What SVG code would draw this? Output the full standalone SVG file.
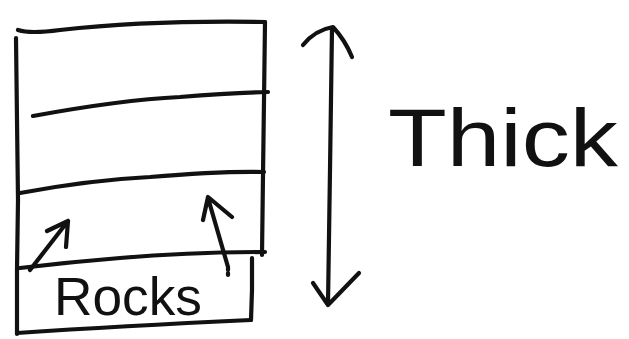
<svg xmlns="http://www.w3.org/2000/svg" width="629" height="339" viewBox="0 0 629 339">
<style>
.s{fill:none;stroke:#111;stroke-width:4.2;stroke-linecap:round;stroke-linejoin:round}
.t{font-family:"Liberation Sans",Arial,sans-serif;fill:#111}
</style>
<rect width="629" height="339" fill="#fff"/>
<g id="column">
<path class="s" d="M16,38 L17,120 L18,200 L17,270 L17,334"/>
<path class="s" d="M18,30 Q30,34 60,30 Q150,20 265,22"/>
<path class="s" d="M265,22 L264,100 L263,175 L262,255"/>
<path class="s" d="M33,116 Q120,100 180,97 Q230,93 268,92"/>
<path class="s" d="M20,193 Q90,180 150,177 Q220,171 264,172"/>
<path class="s" d="M20,268 Q70,262 120,258 Q190,252 265,252"/>
</g>
<g id="rocks">
<path class="s" d="M252,258 L252,290 L251,320"/>
<path class="s" d="M17,333 Q120,326 251,320"/>
<text class="t" x="54" y="315" font-size="53" textLength="148" lengthAdjust="spacingAndGlyphs">Rocks</text>
</g>
<g id="connectors">
<path class="s" d="M30,270 L68,221 M47,231 L68,221 L66,247"/>
<path class="s" d="M228,267 L208,198 M203,220 L208,197 L232,217"/>
<path class="s" d="M228,268 L228,278" stroke-dasharray="2 3"/>
<path class="s" d="M332,28 L330,170 L328,304"/>
<path class="s" d="M303,45 Q315,30 333,27 Q345,40 352,57"/>
<path class="s" d="M313,283 L328,305 L359,273"/>
</g>
<g id="label">
<text class="t" x="388" y="166" font-size="82" textLength="230" lengthAdjust="spacingAndGlyphs">Thick</text>
</g>
</svg>
